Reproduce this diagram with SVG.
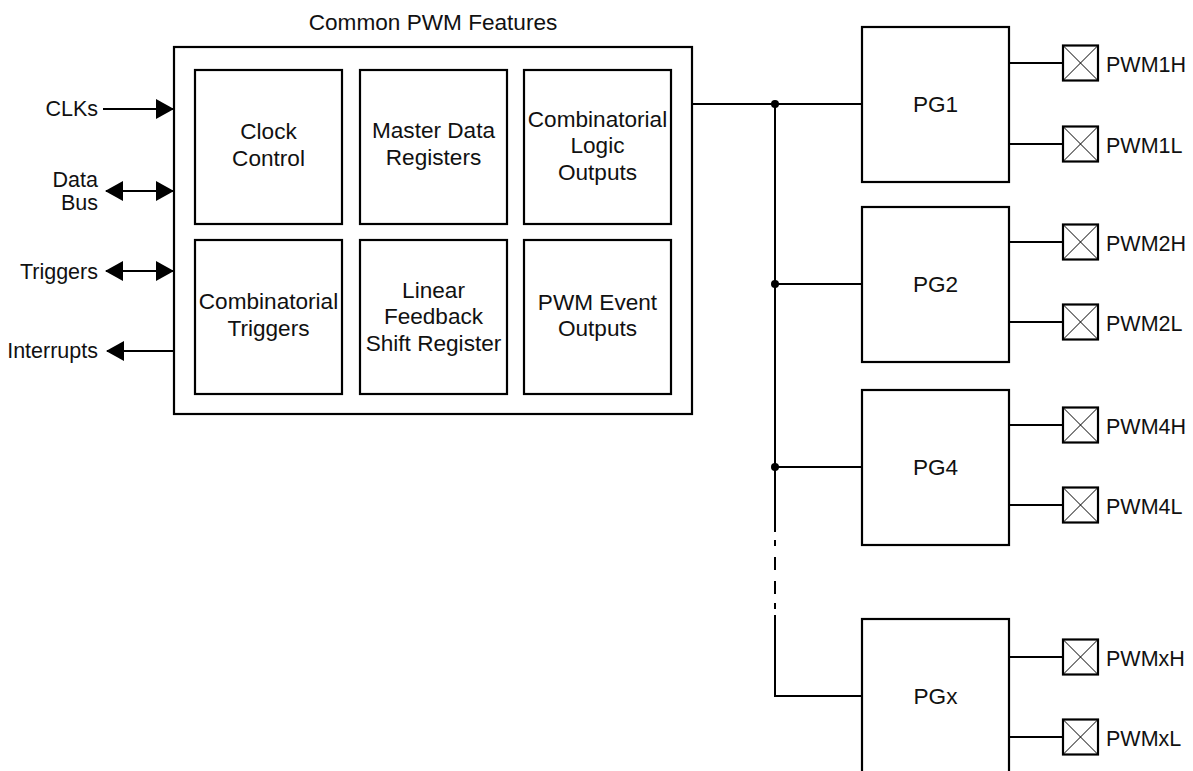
<svg xmlns="http://www.w3.org/2000/svg" width="1193" height="771" viewBox="0 0 1193 771">
<style>
text{font-family:"Liberation Sans",Arial,sans-serif;font-size:21.5px;fill:#111}
.c{text-anchor:middle;font-size:22.6px}
.r{text-anchor:end}
.box{fill:none;stroke:#000;stroke-width:2.2}
.ln{fill:none;stroke:#000;stroke-width:2}
.x{fill:none;stroke:#000;stroke-width:1}
</style>
<defs>
<marker id="ah" markerUnits="userSpaceOnUse" markerWidth="18" markerHeight="20" refX="17" refY="10" orient="auto-start-reverse" viewBox="0 0 18 20">
<path d="M0,0 L18,10 L0,20 z" fill="#000"/>
</marker>
<g id="pin">
<rect x="0" y="-17.5" width="35" height="35" class="box"/>
<path d="M0,-17.5 L35,17.5 M0,17.5 L35,-17.5" class="x"/>
</g>
</defs>
<rect width="1193" height="771" fill="#fff"/>

<g id="common">
<text x="433" y="30" class="c">Common PWM Features</text>
<rect x="174" y="47" width="518" height="367" class="box"/>
</g>
<g id="clock"><rect x="195" y="70" width="147" height="154" class="box"/>
<text x="268.5" y="139" class="c">Clock</text><text x="268.5" y="166" class="c">Control</text></g>
<g id="master"><rect x="360" y="70" width="147" height="154" class="box"/>
<text x="433.5" y="138" class="c">Master Data</text><text x="433.5" y="164.5" class="c">Registers</text></g>
<g id="comblogic"><rect x="524" y="70" width="147" height="154" class="box"/>
<text x="597.5" y="126.5" class="c">Combinatorial</text><text x="597.5" y="153.2" class="c">Logic</text><text x="597.5" y="180" class="c">Outputs</text></g>
<g id="combtrig"><rect x="195" y="240" width="147" height="154" class="box"/>
<text x="268.5" y="309" class="c">Combinatorial</text><text x="268.5" y="336" class="c">Triggers</text></g>
<g id="lfsr"><rect x="360" y="240" width="147" height="154" class="box"/>
<text x="433.5" y="297.5" class="c">Linear</text><text x="433.5" y="324.2" class="c">Feedback</text><text x="433.5" y="351" class="c">Shift Register</text></g>
<g id="event"><rect x="524" y="240" width="147" height="154" class="box"/>
<text x="597.5" y="310" class="c">PWM Event</text><text x="597.5" y="336" class="c">Outputs</text></g>

<g id="inputs">
<text x="98" y="116" class="r">CLKs</text>
<text x="98" y="187" class="r">Data</text>
<text x="98" y="210" class="r">Bus</text>
<text x="98" y="279" class="r">Triggers</text>
<text x="98" y="358" class="r">Interrupts</text>
</g>

<g id="pg1"><rect x="862" y="27" width="147" height="155" class="box"/><text x="935.5" y="112" class="c">PG1</text></g>
<g id="pg2"><rect x="862" y="207" width="147" height="155" class="box"/><text x="935.5" y="292" class="c">PG2</text></g>
<g id="pg4"><rect x="862" y="390" width="147" height="155" class="box"/><text x="935.5" y="475" class="c">PG4</text></g>
<g id="pgx"><rect x="862" y="619" width="147" height="170" class="box"/><text x="935.5" y="704" class="c">PGx</text></g>

<g id="pins">
<use href="#pin" x="1063" y="63"/><text x="1106" y="71.5">PWM1H</text>
<use href="#pin" x="1063" y="144"/><text x="1106" y="152.5">PWM1L</text>
<use href="#pin" x="1063" y="242"/><text x="1106" y="250.5">PWM2H</text>
<use href="#pin" x="1063" y="322"/><text x="1106" y="330.5">PWM2L</text>
<use href="#pin" x="1063" y="425"/><text x="1106" y="433.5">PWM4H</text>
<use href="#pin" x="1063" y="505"/><text x="1106" y="513.5">PWM4L</text>
<use href="#pin" x="1063" y="657"/><text x="1106" y="665.5">PWMxH</text>
<use href="#pin" x="1063" y="737"/><text x="1106" y="745.5">PWMxL</text>
</g>

<g id="connectors">
<line x1="103" y1="109" x2="173" y2="109" class="ln" marker-end="url(#ah)"/>
<line x1="106" y1="191" x2="173" y2="191" class="ln" marker-start="url(#ah)" marker-end="url(#ah)"/>
<line x1="106" y1="271" x2="173" y2="271" class="ln" marker-start="url(#ah)" marker-end="url(#ah)"/>
<line x1="174" y1="351" x2="107" y2="351" class="ln" marker-end="url(#ah)"/>
<line x1="692" y1="104" x2="862" y2="104" class="ln"/>
<line x1="775" y1="104" x2="775" y2="532" class="ln"/>
<path d="M775,540 V546 M775,557 V570 M775,581 V594 M775,603 V609" class="ln"/>
<path d="M775,615 V696 H862" class="ln"/>
<line x1="775" y1="284" x2="862" y2="284" class="ln"/>
<line x1="775" y1="467" x2="862" y2="467" class="ln"/>
<circle cx="775" cy="104" r="4"/>
<circle cx="775" cy="284" r="4"/>
<circle cx="775" cy="467" r="4"/>
<path d="M1009,63 H1063 M1009,144 H1063 M1009,242 H1063 M1009,322 H1063 M1009,425 H1063 M1009,505 H1063 M1009,657 H1063 M1009,737 H1063" class="ln"/>
</g>
</svg>
